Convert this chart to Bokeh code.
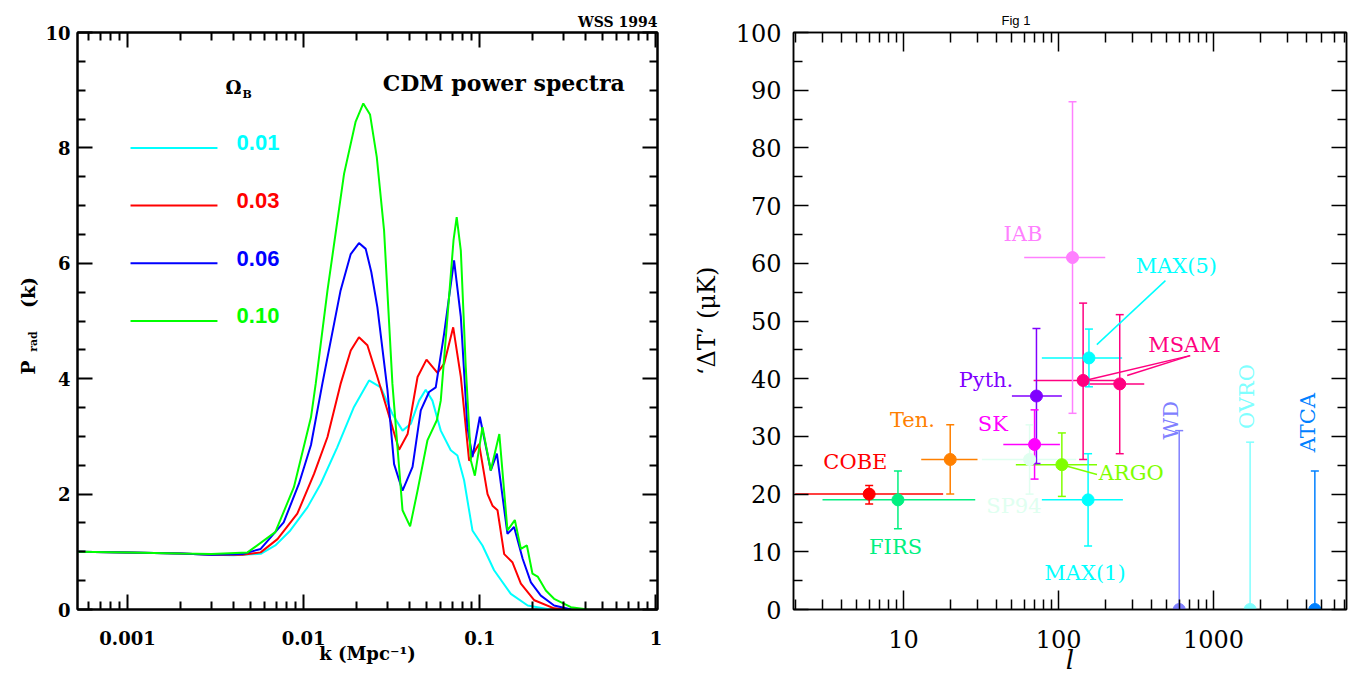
import math
import numpy as np
from bokeh.plotting import figure
from bokeh.models import (ColumnDataSource, LinearAxis, LogAxis, FixedTicker,
                          CustomJSTickFormatter, Range1d)
from bokeh.layouts import row
from bokeh.embed import file_html
from bokeh.resources import INLINE
from bokeh.core.properties import value

# ---------------- left panel data: CDM radiation power spectra ----------------
k_b001 = [0.00052, 0.001, 0.002, 0.003, 0.004, 0.0057, 0.0069, 0.0084, 0.0105, 0.0125,
          0.0155, 0.0193, 0.0235, 0.0274, 0.0319, 0.0364, 0.0406, 0.0452, 0.0493, 0.0538,
          0.060, 0.0684, 0.0746, 0.0814, 0.0908, 0.1035, 0.1205, 0.15, 0.187, 0.25]
p_b001 = [1.0, 0.99, 0.97, 0.95, 0.94, 0.965, 1.11, 1.37, 1.77, 2.18,
          2.81, 3.51, 3.97, 3.85, 3.39, 3.10, 3.22, 3.62, 3.81, 3.62,
          3.10, 2.76, 2.67, 2.24, 1.37, 1.11, 0.68, 0.27, 0.07, 0.0]

k_b003 = [0.00052, 0.001, 0.002, 0.003, 0.0045, 0.0057, 0.0071, 0.0092, 0.01145, 0.01365,
          0.0162, 0.0185, 0.0206, 0.023, 0.0262, 0.0299, 0.0348, 0.0389, 0.0443, 0.0498,
          0.0575, 0.0627, 0.0706, 0.078, 0.0869, 0.099, 0.1106, 0.118, 0.126, 0.1375,
          0.153, 0.171, 0.204, 0.264, 0.31]
p_b003 = [1.0, 0.99, 0.97, 0.95, 0.95, 0.99, 1.22, 1.66, 2.35, 2.99,
          3.91, 4.49, 4.72, 4.58, 4.03, 3.45, 2.77, 3.04, 4.03, 4.33,
          4.10, 4.26, 4.89, 4.03, 2.58, 2.87, 2.0, 1.80, 1.72, 0.96,
          0.82, 0.45, 0.16, 0.02, 0.0]

k_b006 = [0.00052, 0.001, 0.002, 0.003, 0.0045, 0.0057, 0.0077, 0.0094, 0.011, 0.01276,
          0.0162, 0.0185, 0.0206, 0.0225, 0.0242, 0.0262, 0.0299, 0.0326, 0.0364, 0.0415,
          0.0462, 0.0515, 0.0562, 0.0627, 0.0714, 0.078, 0.085, 0.0908, 0.1, 0.1154,
          0.125, 0.1435, 0.1565, 0.175, 0.195, 0.222, 0.264, 0.33]
p_b006 = [1.0, 0.99, 0.97, 0.95, 0.96, 1.05, 1.51, 2.18, 2.85, 3.91,
          5.53, 6.16, 6.35, 6.25, 5.85, 5.24, 3.80, 2.52, 2.06, 2.47,
          3.45, 3.77, 3.85, 4.78, 6.05, 5.07, 3.16, 2.64, 3.34, 2.41,
          2.70, 1.31, 1.43, 0.88, 0.47, 0.24, 0.07, 0.0]

k_b010 = [0.00052, 0.001, 0.002, 0.003, 0.0048, 0.0069, 0.0088, 0.011, 0.0117, 0.01365,
          0.01695, 0.0197, 0.0218, 0.0238, 0.026, 0.0286, 0.0319, 0.0364, 0.0402, 0.0443,
          0.0504, 0.057, 0.06, 0.0655, 0.0709, 0.0739, 0.078, 0.0832, 0.089, 0.0937,
          0.1035, 0.1154, 0.129, 0.1435, 0.158, 0.171, 0.185, 0.199, 0.213, 0.237,
          0.264, 0.329, 0.41]
p_b010 = [1.0, 0.99, 0.97, 0.96, 0.99, 1.34, 2.12, 3.33, 3.91, 5.53,
          7.55, 8.45, 8.77, 8.58, 7.84, 6.57, 3.91, 1.72, 1.44, 2.06,
          2.93, 3.28, 3.62, 5.07, 6.40, 6.80, 6.22, 4.20, 2.58, 2.32,
          3.16, 2.41, 3.04, 1.37, 1.55, 1.05, 1.11, 0.62, 0.57, 0.33,
          0.185, 0.04, 0.0]

omega_b = ["0.01", "0.03", "0.06", "0.10"]
curve_colors = ["#00ffff", "#ff0000", "#0000ff", "#00ff00"]
left_xticks = [0.001, 0.01, 0.1, 1]
left_yticks = [0, 2, 4, 6, 8, 10]

# ---------------- right panel data: CMB anisotropy detections ----------------
expt = ["COBE", "FIRS", "Ten.", "SP94", "SK", "Pyth.", "ARGO", "IAB", "MAX(5)",
        "MSAM", "MSAM", "MAX(1)", "WD", "OVRO", "ATCA"]
l_eff = [6, 9.2, 20, 65, 70, 72, 105, 123, 157, 144, 248, 155, 600, 1720, 4500]
l_min = [2, 3, 13, 32, 44, 50, 53, 60, 78, 69, 150, 78, 600, 1720, 4500]
l_max = [18, 29, 30, 130, 102, 105, 177, 200, 257, 250, 357, 260, 600, 1720, 4500]
dT = [20, 19, 26, 26, 28.6, 37, 25.1, 61, 43.6, 39.7, 39.1, 19, 0, 0, 0]
dT_min = [18.3, 14, 20, 20, 22.6, 25.3, 19.6, 34, 38.6, 26, 27, 11, 0, 0, 0]
dT_max = [21.5, 24, 32, 32, 34.6, 48.7, 30.6, 88, 48.6, 53.1, 51.1, 27, 31, 29, 24]
expt_colors = ["#ff0000", "#00f080", "#ff8000", "#e0fff0", "#ff00ff", "#8000ff",
               "#80ff00", "#ff80ff", "#00ffff", "#ff0080", "#ff0080", "#00ffff",
               "#8080ff", "#80ffff", "#0080ff"]

lab_text = ["COBE", "FIRS", "Ten.", "SP94", "SK", "Pyth.", "ARGO", "IAB", "MAX(5)",
            "MSAM", "MAX(1)", "WD", "OVRO", "ATCA"]
lab_l = [4.89, 8.88, 11.4, 51.5, 37.7, 34, 294, 58.9, 575, 649, 148, 535, 1637, 4055]
lab_dT = [25.6, 10.9, 32.8, 17.9, 32.1, 39.8, 23.7, 65.0, 59.6, 45.9, 6.4, 32.8, 36.9, 32.4]
lab_angle = [0, 0, 0, 0, 0, 0, 0, 0, 0, 0, 0, 90, 90, 90]
lab_colors = ["#ff0000", "#00f080", "#ff8000", "#e0fff0", "#ff00ff", "#8000ff",
              "#80ff00", "#ff80ff", "#00ffff", "#ff0080", "#00ffff",
              "#8080ff", "#80ffff", "#0080ff"]

lead_l0 = [176.5, 155, 277, 105]
lead_dT0 = [45.9, 39.8, 40.55, 25.1]
lead_l1 = [489, 706, 706, 177]
lead_dT1 = [57, 44, 44, 23.4]
lead_colors = ["#00ffff", "#ff0080", "#ff0080", "#80ff00"]

right_xticks = [10, 100, 1000]
right_yticks = list(range(0, 101, 10))

SERIF = "DejaVu Serif"
EMPTY = CustomJSTickFormatter(code="return ''")
NUM = CustomJSTickFormatter(code="return String(tick)")
FIG_H = 669
YSHIFT = 30


def style_axis(ax, tin, tmin, lw, font, size, bold, standoff):
    ax.major_tick_in = tin
    ax.major_tick_out = 0
    ax.minor_tick_in = tmin
    ax.minor_tick_out = 0
    ax.axis_line_width = lw
    ax.major_tick_line_width = lw
    ax.minor_tick_line_width = lw
    ax.axis_line_color = "black"
    ax.major_tick_line_color = "black"
    ax.minor_tick_line_color = "black"
    ax.major_label_text_font = font
    ax.major_label_text_font_size = size
    ax.major_label_text_font_style = "bold" if bold else "normal"
    ax.major_label_text_color = "black"
    ax.major_label_standoff = standoff
    ax.axis_label_text_font = font
    ax.axis_label_text_color = "black"


# ================= strip holding the rotated y-axis title of the left panel =================
p0 = figure(frame_width=40, frame_height=FIG_H, min_border_left=0, min_border_right=0,
            min_border_top=0, min_border_bottom=0, x_range=Range1d(0, 40),
            y_range=Range1d(0, FIG_H), x_axis_location=None, y_axis_location=None,
            output_backend="svg", toolbar_location=None)
p0.grid.visible = False
p0.outline_line_color = None
p0.text(x=[27, 27], y=[FIG_H - 365 + YSHIFT, FIG_H - 290 + YSHIFT], text=["P", "(k)"],
        angle=math.pi / 2, text_color="black", text_font=value(SERIF),
        text_font_style="bold", text_font_size="19px", text_align="center",
        text_baseline="middle")
p0.text(x=[33], y=[FIG_H - 339 + YSHIFT], text=["rad"], angle=math.pi / 2,
        text_color="black", text_font=value(SERIF), text_font_style="bold",
        text_font_size="11px", text_align="center", text_baseline="middle")

# ================= left figure =================
lx_minor = [m * 10.0 ** e for e in range(-4, 1) for m in range(2, 10)
            if 0.00052 <= m * 10.0 ** e <= 1.02]
ly_minor = [v for v in np.arange(0, 10.01, 0.5) if v not in left_yticks]

p1 = figure(x_axis_type="log", x_range=Range1d(0.00052, 1.02), y_range=Range1d(0, 10),
            frame_width=580, frame_height=577, min_border_left=37, min_border_right=23,
            min_border_top=32, min_border_bottom=60, output_backend="svg",
            toolbar_location=None, background_fill_color="white",
            title="WSS 1994")
p1.title.align = "right"
p1.title.text_font = SERIF
p1.title.text_font_style = "bold"
p1.title.text_font_size = "14px"
p1.title.text_color = "black"
p1.title.standoff = 5
p1.grid.visible = False
p1.outline_line_color = "black"
p1.outline_line_width = 2

xt1 = FixedTicker(ticks=left_xticks, minor_ticks=lx_minor)
yt1 = FixedTicker(ticks=left_yticks, minor_ticks=ly_minor)
p1.xaxis[0].ticker = xt1
p1.xaxis[0].formatter = NUM
p1.yaxis[0].ticker = yt1
style_axis(p1.xaxis[0], 15, 8, 2, SERIF, "18px", True, 21)
style_axis(p1.yaxis[0], 15, 8, 2, SERIF, "18px", True, 7)
p1.xaxis[0].axis_label = "k (Mpc\u207b\u00b9)"
p1.xaxis[0].axis_label_text_font_size = "18px"
p1.xaxis[0].axis_label_text_font_style = "bold"
p1.xaxis[0].axis_label_standoff = -5

top1 = LogAxis(ticker=xt1, formatter=EMPTY)
style_axis(top1, 15, 8, 2, SERIF, "0px", True, 0)
p1.add_layout(top1, "above")
right1 = LinearAxis(ticker=yt1, formatter=EMPTY)
style_axis(right1, 15, 8, 2, SERIF, "0px", True, 0)
p1.add_layout(right1, "right")

curves = [(k_b001, p_b001), (k_b003, p_b003), (k_b006, p_b006), (k_b010, p_b010)]
for (kk, pp), c in zip(curves, curve_colors):
    p1.line(kk, pp, line_color=c, line_width=2)

leg_y = [8, 7, 6, 5]
p1.segment(x0=[0.00104] * 4, y0=leg_y, x1=[0.00324] * 4, y1=leg_y,
           line_color=curve_colors, line_width=2)
p1.text(x=[0.00416] * 4, y=[v + 0.09 for v in leg_y], text=omega_b, text_color=curve_colors,
        text_font=value("Liberation Sans"), text_font_style="bold", text_font_size="22px",
        text_align="left", text_baseline="middle")
p1.text(x=[0.0040], y=[9.05], text=["\u03a9"], text_color="black", text_font=value(SERIF),
        text_font_style="bold", text_font_size="18px", text_align="center",
        text_baseline="middle")
p1.text(x=[0.00478], y=[8.93], text=["B"], text_color="black", text_font=value(SERIF),
        text_font_style="bold", text_font_size="11px", text_align="center",
        text_baseline="middle")
p1.text(x=[0.0281], y=[9.12], text=["CDM power spectra"], text_color="black",
        text_font=value(SERIF), text_font_style="bold", text_font_size="22px",
        text_align="left", text_baseline="middle")

# ================= right figure =================
rx_minor = [m * 10.0 ** e for e in range(0, 4) for m in range(2, 10)
            if 1.95 <= m * 10.0 ** e <= 7200]
ry_minor = list(range(5, 100, 10))

p2 = figure(x_axis_type="log", x_range=Range1d(1.95, 7200), y_range=Range1d(0, 100),
            frame_width=553, frame_height=577, min_border_left=113, min_border_right=2,
            min_border_top=32, min_border_bottom=60, output_backend="svg",
            toolbar_location=None, background_fill_color="white", title="Fig 1")
p2.title.align = "left"
p2.title.offset = 208
p2.title.text_font = "Liberation Sans"
p2.title.text_font_style = "normal"
p2.title.text_font_size = "13px"
p2.title.text_color = "black"
p2.title.standoff = 10
p2.grid.visible = False
p2.outline_line_color = "black"
p2.outline_line_width = 1.5

xt2 = FixedTicker(ticks=right_xticks, minor_ticks=rx_minor)
yt2 = FixedTicker(ticks=right_yticks, minor_ticks=ry_minor)
p2.xaxis[0].ticker = xt2
p2.xaxis[0].formatter = NUM
p2.yaxis[0].ticker = yt2
style_axis(p2.xaxis[0], 19, 10, 1.5, SERIF, "24px", False, 20)
style_axis(p2.yaxis[0], 15, 9, 1.5, SERIF, "24px", False, 12)
p2.xaxis[0].axis_label = "l"
p2.xaxis[0].axis_label_text_font_size = "26px"
p2.xaxis[0].axis_label_text_font_style = "italic"
p2.xaxis[0].axis_label_standoff = -6
p2.yaxis[0].axis_label = "\u2018\u0394T\u2019 (\u03bcK)"
p2.yaxis[0].axis_label_text_font_size = "24px"
p2.yaxis[0].axis_label_text_font_style = "normal"
p2.yaxis[0].axis_label_standoff = 12

top2 = LogAxis(ticker=xt2, formatter=EMPTY)
style_axis(top2, 19, 10, 1.5, SERIF, "0px", False, 0)
p2.add_layout(top2, "above")
right2 = LinearAxis(ticker=yt2, formatter=EMPTY)
style_axis(right2, 15, 9, 1.5, SERIF, "0px", False, 0)
p2.add_layout(right2, "right")

src = ColumnDataSource(dict(l=l_eff, lo=l_min, hi=l_max, dT=dT, dlo=dT_min, dhi=dT_max,
                            color=expt_colors))
has_lo = [i for i in range(len(dT)) if dT_min[i] < dT[i]]
src_lo = ColumnDataSource(dict(l=[l_eff[i] for i in has_lo], dlo=[dT_min[i] for i in has_lo],
                               color=[expt_colors[i] for i in has_lo]))

p2.segment(x0="lo", y0="dT", x1="hi", y1="dT", line_color="color", line_width=1.5, source=src)
p2.segment(x0="l", y0="dlo", x1="l", y1="dhi", line_color="color", line_width=1.5, source=src)
p2.scatter(x="l", y="dhi", marker="dash", size=8, line_color="color", line_width=1.5,
           source=src)
p2.scatter(x="l", y="dlo", marker="dash", size=8, line_color="color", line_width=1.5,
           source=src_lo)
p2.scatter(x="l", y="dT", size=12, marker="circle", fill_color="color", line_color="color",
           source=src)

p2.segment(x0=lead_l0, y0=lead_dT0, x1=lead_l1, y1=lead_dT1, line_color=lead_colors,
           line_width=1.5)
p2.text(x=lab_l, y=lab_dT, text=lab_text, angle=lab_angle, angle_units="deg",
        text_color=lab_colors, text_font=value(SERIF), text_font_size="21px",
        text_align="center", text_baseline="middle")

layout = row(p0, p1, p2, spacing=0)
open("out.html", "w").write(file_html(layout, INLINE))
